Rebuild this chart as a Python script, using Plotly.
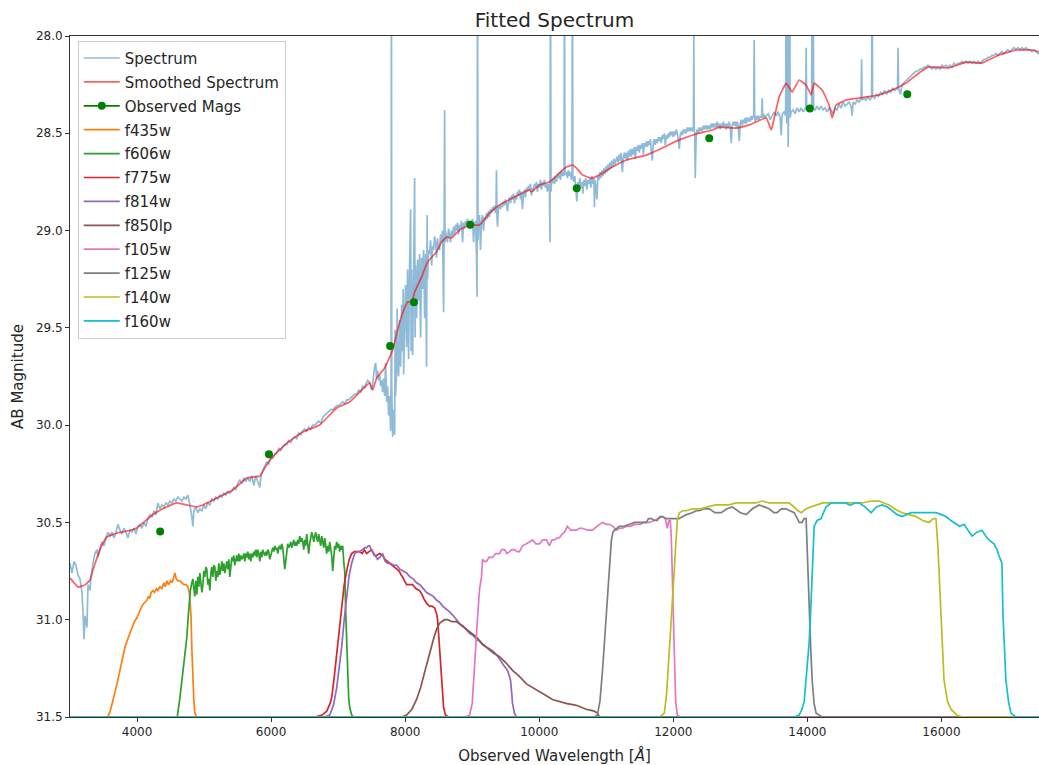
import plotly.graph_objects as go

# ---------------- data (wavelength [A], AB magnitude) ----------------
spectrum = [
(3000,30.71),(3030,30.76),(3060,30.70),(3089,30.72),(3119,30.77),(3149,30.79),(3179,30.86),(3194,30.96),(3209,31.10),(3224,30.98),
(3238,31.01),(3253,31.04),(3268,30.82),(3298,30.85),(3313,30.78),(3343,30.71),(3373,30.66),(3402,30.64),(3417,30.68),(3447,30.63),
(3477,30.60),(3507,30.62),(3536,30.58),(3566,30.55),(3596,30.57),(3626,30.55),(3656,30.58),(3685,30.55),(3715,30.51),(3745,30.54),
(3775,30.56),(3805,30.53),(3834,30.55),(3864,30.58),(3894,30.54),(3924,30.55),(3954,30.53),(3983,30.56),(4013,30.52),(4043,30.51),
(4073,30.53),(4103,30.50),(4132,30.52),(4162,30.48),(4192,30.46),(4222,30.47),(4252,30.44),(4281,30.46),(4311,30.40),(4341,30.43),
(4371,30.41),(4401,30.42),(4430,30.40),(4460,30.41),(4490,30.39),(4520,30.40),(4550,30.38),(4579,30.39),(4609,30.37),(4639,30.38),
(4669,30.39),(4699,30.37),(4728,30.38),(4758,30.36),(4788,30.41),(4818,30.47),(4833,30.52),(4848,30.44),(4877,30.42),(4907,30.45),
(4937,30.43),(4967,30.44),(4997,30.41),(5026,30.43),(5056,30.40),(5086,30.41),(5116,30.38),(5146,30.39),(5175,30.37),(5205,30.38),
(5235,30.36),(5265,30.37),(5295,30.35),(5324,30.36),(5354,30.34),(5384,30.35),(5414,30.34),(5444,30.32),(5473,30.33),(5503,30.30),
(5533,30.28),(5563,30.30),(5593,30.27),(5622,30.29),(5652,30.27),(5682,30.29),(5712,30.26),(5742,30.31),(5771,30.26),(5801,30.29),
(5831,30.32),(5846,30.27),(5876,30.23),(5906,30.21),(5935,30.19),(5965,30.20),(5995,30.17),(6025,30.17),(6055,30.15),(6084,30.14),
(6114,30.12),(6144,30.13),(6174,30.11),(6204,30.10),(6233,30.10),(6263,30.08),(6293,30.09),(6323,30.07),(6353,30.06),(6382,30.07),
(6412,30.04),(6442,30.05),(6472,30.03),(6502,30.02),(6531,30.03),(6561,30.01),(6591,30.02),(6621,30.00),(6651,30.00),(6680,29.99),
(6710,29.98),(6740,29.99),(6770,29.96),(6800,29.95),(6829,29.94),(6859,29.93),(6889,29.92),(6919,29.92),(6949,29.91),(6978,29.90),
(7008,29.90),(7038,29.89),(7068,29.88),(7098,29.89),(7127,29.87),(7157,29.87),(7187,29.86),(7217,29.85),(7247,29.84),(7277,29.84),
(7306,29.82),(7336,29.83),(7366,29.80),(7396,29.81),(7410,29.79),(7440,29.77),(7470,29.78),(7500,29.82),(7515,29.79),(7530,29.74),
(7545,29.70),(7560,29.68),(7574,29.76),(7589,29.72),(7604,29.77),(7619,29.74),(7634,29.80),(7649,29.77),(7664,29.83),(7679,29.76),
(7694,29.85),(7708,29.68),(7723,29.88),(7738,29.80),(7753,29.95),(7768,29.85),(7783,30.03),(7790,29.75),(7795,27.5),(7800,29.80),
(7813,30.06),(7828,29.92),(7843,30.05),(7850,29.51),(7857,29.85),(7872,29.72),(7880,29.40),(7887,29.68),(7902,29.75),(7917,29.46),
(7932,29.70),(7947,29.38),(7962,29.62),(7970,29.30),(7977,29.74),(7992,29.46),(8006,29.28),(8021,29.60),(8036,29.20),(8051,29.66),
(8066,29.18),(8081,28.89),(8089,29.62),(8096,29.20),(8111,29.64),(8126,29.22),(8141,28.73),(8148,29.55),(8155,29.18),(8170,29.45),
(8185,29.15),(8200,29.36),(8215,29.12),(8230,29.55),(8245,29.14),(8260,29.30),(8275,29.10),(8290,29.45),(8304,29.12),(8319,29.70),
(8327,28.92),(8334,29.25),(8349,29.10),(8364,29.12),(8379,29.05),(8394,29.18),(8409,29.08),(8424,29.10),(8439,29.03),(8453,29.06),
(8468,29.14),(8483,29.04),(8498,29.09),(8513,29.10),(8528,29.02),(8543,29.06),(8558,29.00),(8573,29.42),(8581,29.02),(8588,28.38),
(8595,29.06),(8602,29.00),(8617,29.04),(8632,29.06),(8647,28.99),(8662,29.02),(8677,29.06),(8692,29.00),(8707,29.03),(8722,28.98),
(8737,29.02),(8752,28.97),(8766,29.00),(8781,28.96),(8796,29.02),(8811,28.97),(8826,28.99),(8841,28.95),(8856,29.06),(8870,28.96),
(8885,28.99),(8900,28.95),(8915,28.97),(8930,28.94),(8945,28.96),(8960,28.99),(8975,28.95),(8990,28.97),(9005,28.94),(9020,29.06),
(9035,28.97),(9049,28.95),(9064,29.12),(9072,29.34),(9079,27.5),(9086,29.05),(9094,28.95),(9109,28.92),(9124,29.10),(9139,28.95),
(9154,28.92),(9169,29.00),(9184,28.93),(9198,28.95),(9213,28.91),(9228,28.94),(9243,28.90),(9258,28.93),(9273,28.89),(9288,28.91),
(9303,28.88),(9318,28.90),(9333,28.87),(9347,28.91),(9355,28.88),(9362,28.69),(9370,28.93),(9377,28.98),(9392,28.88),(9407,28.87),
(9422,28.89),(9437,28.86),(9452,28.88),(9467,28.85),(9482,28.87),(9497,28.84),(9511,28.86),(9526,28.90),(9541,28.85),(9556,28.83),
(9571,28.86),(9586,28.82),(9601,28.84),(9616,28.81),(9631,28.86),(9646,28.82),(9661,28.84),(9675,28.80),(9690,28.82),(9705,28.79),
(9720,28.84),(9735,28.80),(9750,28.89),(9765,28.81),(9780,28.79),(9794,28.83),(9809,28.78),(9824,28.80),(9839,28.77),(9854,28.79),
(9869,28.76),(9884,28.82),(9899,28.78),(9913,28.80),(9928,28.76),(9943,28.78),(9958,28.75),(9973,28.80),(9988,28.76),(10003,28.78),
(10018,28.74),(10033,28.79),(10048,28.75),(10063,28.77),(10078,28.74),(10092,28.78),(10107,28.76),(10122,28.80),(10137,28.76),(10152,28.79),
(10160,29.06),(10167,27.5),(10175,28.80),(10182,28.76),(10197,28.75),(10212,28.73),(10227,28.76),(10241,28.72),(10256,28.75),(10271,28.71),
(10286,28.73),(10301,28.70),(10316,28.74),(10331,28.69),(10346,28.72),(10361,28.70),(10370,28.72),(10376,27.5),(10382,28.71),(10405,28.70),
(10420,28.73),(10435,28.69),(10450,28.72),(10465,28.70),(10480,28.74),(10489,28.69),(10495,27.5),(10501,28.72),(10516,28.75),(10531,28.72),
(10546,28.79),(10561,28.85),(10576,28.75),(10591,28.77),(10606,28.73),(10621,28.78),(10636,28.75),(10651,28.81),(10665,28.74),(10680,28.77),
(10695,28.73),(10710,28.79),(10725,28.74),(10740,28.76),(10755,28.73),(10770,28.78),(10785,28.72),(10800,28.76),(10815,28.73),(10823,28.88),
(10830,28.74),(10845,28.77),(10860,28.84),(10875,28.72),(10890,28.74),(10905,28.70),(10920,28.73),(10935,28.69),(10950,28.72),(10965,28.68),
(10980,28.71),(10995,28.67),(11010,28.70),(11025,28.66),(11040,28.69),(11055,28.65),(11070,28.68),(11085,28.64),(11100,28.67),(11115,28.63),
(11130,28.66),(11145,28.64),(11160,28.62),(11175,28.65),(11190,28.61),(11205,28.64),(11220,28.60),(11240,28.70),(11255,28.62),(11270,28.60),
(11284,28.63),(11300,28.60),(11314,28.64),(11330,28.59),(11344,28.62),(11360,28.58),(11374,28.62),(11390,28.58),(11404,28.61),(11420,28.57),
(11433,28.63),(11450,28.57),(11463,28.59),(11480,28.56),(11493,28.60),(11510,28.56),(11523,28.58),(11540,28.55),(11552,28.61),(11570,28.55),
(11582,28.57),(11600,28.54),(11612,28.57),(11630,28.54),(11642,28.56),(11660,28.53),(11672,28.60),(11687,28.64),(11702,28.55),(11716,28.53),
(11731,28.56),(11746,28.53),(11761,28.55),(11776,28.52),(11791,28.54),(11806,28.52),(11821,28.55),(11836,28.51),(11851,28.53),(11866,28.50),
(11880,28.56),(11895,28.51),(11910,28.53),(11925,28.50),(11940,28.52),(11955,28.49),(11970,28.51),(11985,28.49),(12000,28.52),(12015,28.49),
(12029,28.51),(12044,28.48),(12059,28.50),(12074,28.53),(12089,28.58),(12104,28.51),(12119,28.49),(12134,28.51),(12149,28.48),(12164,28.50),
(12178,28.48),(12193,28.50),(12208,28.47),(12223,28.49),(12238,28.47),(12253,28.49),(12268,28.47),(12283,28.49),(12296,28.47),(12300,28.48),
(12306,28.0),(12312,28.49),(12320,28.50),(12327,28.73),(12342,28.50),(12357,28.48),(12372,28.50),(12387,28.47),(12402,28.49),(12417,28.47),
(12432,28.49),(12447,28.46),
(12462,28.48),(12477,28.46),(12491,28.48),(12506,28.46),(12521,28.48),(12536,28.46),(12551,28.48),(12566,28.45),(12581,28.47),(12596,28.45),
(12611,28.47),(12626,28.45),(12640,28.47),(12655,28.44),(12670,28.47),(12685,28.45),(12700,28.48),(12715,28.45),(12730,28.47),(12745,28.44),
(12760,28.47),(12775,28.45),(12789,28.48),(12804,28.45),(12819,28.47),(12834,28.44),(12849,28.47),(12864,28.55),(12879,28.46),(12894,28.44),
(12908,28.46),(12923,28.44),(12938,28.47),(12953,28.44),(12968,28.46),(12983,28.54),(12998,28.45),(13013,28.43),(13028,28.46),(13043,28.43),
(13058,28.45),(13073,28.42),(13087,28.45),(13102,28.42),(13117,28.44),(13132,28.42),(13147,28.44),(13162,28.41),(13177,28.43),(13192,28.41),
(13199,28.42),(13206,28.02),(13214,28.42),(13221,28.44),(13236,28.41),(13251,28.43),(13266,28.41),(13281,28.43),(13296,28.41),(13311,28.42),
(13318,28.41),(13326,28.32),(13333,28.42),(13348,28.40),(13363,28.42),(13385,28.41),(13415,28.40),(13445,28.43),(13475,28.41),(13505,28.39),
(13534,28.41),(13564,28.39),(13594,28.42),(13609,28.51),(13624,28.40),(13654,28.39),(13676,28.41),(13683,27.5),(13691,28.45),(13705,27.5),
(13713,28.57),(13720,28.40),(13735,27.5),(13743,28.42),(13758,28.39),(13788,28.38),(13817,28.40),(13847,28.37),(13877,28.39),(13907,28.37),
(13937,28.39),(13974,28.37),(13981,28.06),(13989,28.38),(14011,28.36),(14041,28.38),(14063,28.36),(14071,27.5),(14078,28.37),(14086,27.5),
(14093,28.37),(14116,28.38),(14145,28.36),(14175,28.38),(14205,28.36),(14235,28.38),(14265,28.37),(14294,28.39),(14324,28.37),(14354,28.38),
(14384,28.40),(14414,28.37),(14443,28.38),(14473,28.35),(14503,28.37),(14533,28.34),(14563,28.36),(14593,28.35),(14622,28.34),(14652,28.36),
(14667,28.41),(14682,28.34),(14712,28.35),(14741,28.33),(14771,28.34),(14801,28.32),(14809,28.12),(14816,28.33),(14846,28.32),(14875,28.33),
(14905,28.31),(14935,28.33),(14958,28.31),(14965,27.5),(14972,28.31),(15002,28.32),(15032,28.30),(15061,28.31),(15091,28.29),(15121,28.30),
(15151,28.28),(15181,28.30),(15210,28.28),(15240,28.29),(15270,28.27),(15300,28.28),(15345,28.27),(15353,28.06),(15360,28.27),(15390,28.30),
(15412,28.25),(15442,28.24),(15471,28.23),(15501,28.22),(15531,28.21),(15561,28.20),(15590,28.19),(15620,28.18),(15650,28.18),(15680,28.17),
(15710,28.17),(15740,28.16),(15769,28.16),(15799,28.15),(15829,28.16),(15859,28.17),(15888,28.16),(15918,28.17),(15948,28.16),(15978,28.17),
(16008,28.15),(16037,28.16),(16067,28.15),(16097,28.16),(16127,28.15),(16157,28.16),(16186,28.14),(16216,28.15),(16246,28.14),(16276,28.14),
(16306,28.13),(16335,28.14),(16365,28.13),(16395,28.14),(16425,28.13),(16455,28.14),(16484,28.13),(16514,28.14),(16544,28.13),(16574,28.14),
(16604,28.13),(16633,28.12),(16663,28.12),(16693,28.11),(16723,28.11),(16753,28.10),(16782,28.10),(16812,28.09),(16842,28.10),(16872,28.09),
(16902,28.08),(16931,28.09),(16961,28.08),(16991,28.07),(17021,28.08),(17051,28.07),(17080,28.06),(17110,28.07),(17140,28.06),(17170,28.07),
(17200,28.06),(17229,28.07),(17259,28.06),(17289,28.07),(17319,28.07),(17349,28.08),(17378,28.07),(17408,28.08),(17438,28.09),(17460,28.09)]

smoothed = [
(3000,30.785),(3119,30.832),(3224,30.821),(3298,30.796),(3343,30.744),(3402,30.683),(3477,30.616),(3551,30.575),(3700,30.554),(3849,30.544),
(3998,30.528),(4088,30.503),(4192,30.472),(4296,30.446),(4445,30.420),(4594,30.400),(4743,30.410),(4892,30.420),(4982,30.410),(5131,30.385),
(5280,30.359),(5429,30.333),(5637,30.272),(5831,30.261),(5980,30.179),(6233,30.092),(6472,30.035),(6725,29.999),(6978,29.912),(7172,29.881),
(7321,29.830),(7470,29.783),(7515,29.819),(7574,29.758),(7694,29.706),(7813,29.614),(7887,29.511),(7962,29.424),(8036,29.367),(8096,29.367),
(8141,29.316),(8245,29.239),(8334,29.161),(8468,29.110),(8543,29.059),(8617,29.033),(8692,29.038),(8811,28.997),(8960,28.971),(9109,28.971),
(9258,28.910),(9407,28.868),(9601,28.833),(9854,28.791),(9884,28.802),(10003,28.766),(10152,28.750),(10301,28.704),(10405,28.673),(10495,28.663),
(10554,28.678),(10644,28.714),(10778,28.730),(10897,28.714),(11091,28.673),(11299,28.637),(11597,28.612),(11836,28.576),(11985,28.550),(12089,28.534),
(12342,28.504),(12581,28.483),(12685,28.468),(12938,28.473),(13132,28.457),(13385,28.421),(13460,28.483),(13475,28.468),(13579,28.313),(13683,28.242),
(13773,28.288),(13877,28.226),(13981,28.252),(14056,28.303),(14101,28.242),(14220,28.278),(14324,28.355),(14369,28.421),(14428,28.355),(14577,28.329),
(14771,28.319),(14875,28.313),(15069,28.303),(15263,28.278),(15471,28.242),(15665,28.190),(15814,28.159),(16112,28.164),(16365,28.134),(16604,28.139),
(16857,28.098),(17110,28.072),(17349,28.072),(17460,28.082)]

obs_wave = [4345, 5968, 7775, 8131, 8970, 10559, 12536, 14036, 15490]
obs_mag = [30.546, 30.149, 29.593, 29.368, 28.970, 28.783, 28.526, 28.372, 28.300]

f435w = [(3000,31.5),(3560,31.5),(3600,31.47),(3640,31.42),(3680,31.36),(3720,31.30),(3745,31.26),(3780,31.20),(3820,31.14),(3860,31.10),
(3894,31.07),(3930,31.04),(3960,31.01),(3998,30.99),(4030,30.96),(4060,30.94),(4090,30.92),(4120,30.91),(4147,30.90),(4170,30.88),
(4190,30.89),(4210,30.86),(4237,30.85),(4260,30.86),(4290,30.84),(4310,30.85),(4341,30.83),(4370,30.84),(4400,30.81),(4420,30.83),
(4445,30.80),(4470,30.82),(4500,30.80),(4525,30.81),(4545,30.78),(4565,30.76),(4585,30.79),(4610,30.80),(4639,30.80),(4670,30.81),
(4700,30.82),(4730,30.82),(4758,30.83),(4780,30.86),(4795,30.92),(4805,30.98),(4818,31.15),(4833,31.31),(4848,31.42),(4863,31.48),
(4890,31.5),(17460,31.5)]

f606w = [(3000,31.5),(4600,31.5),(4640,31.40),(4684,31.26),(4710,31.16),(4743,31.09),(4760,31.00),(4773,30.95),(4795,30.85),(4818,30.81),
(4833,30.79),(4848,30.84),(4862,30.88),(4877,30.80),(4892,30.87),(4907,30.78),(4922,30.83),(4937,30.76),(4952,30.80),(4967,30.86),
(4982,30.82),(4997,30.75),(5011,30.78),(5026,30.73),(5041,30.74),(5056,30.82),(5071,30.79),(5086,30.85),(5101,30.76),(5116,30.73),
(5131,30.78),(5146,30.72),(5161,30.73),(5175,30.80),(5190,30.75),(5205,30.78),(5220,30.71),(5235,30.77),(5250,30.74),(5265,30.70),
(5280,30.75),(5295,30.71),(5310,30.76),(5324,30.72),(5339,30.70),(5354,30.74),(5369,30.69),(5384,30.78),(5399,30.71),(5414,30.68),
(5429,30.70),(5444,30.67),(5458,30.72),(5473,30.68),(5488,30.67),(5503,30.70),(5518,30.66),(5533,30.70),(5548,30.67),(5563,30.69),
(5578,30.68),(5593,30.66),(5607,30.70),(5622,30.66),(5637,30.68),(5652,30.65),(5667,30.69),(5682,30.66),(5697,30.70),(5712,30.66),
(5727,30.68),(5742,30.65),(5757,30.67),(5771,30.64),(5786,30.68),(5801,30.64),(5816,30.66),(5831,30.70),(5846,30.65),(5861,30.68),
(5876,30.64),(5891,30.66),(5906,30.67),(5920,30.65),(5935,30.67),(5950,30.64),(5965,30.65),(5980,30.69),(5995,30.66),(6010,30.65),
(6025,30.63),(6040,30.65),(6055,30.62),(6069,30.64),(6084,30.63),(6099,30.66),(6114,30.63),(6129,30.62),(6144,30.64),(6159,30.61),
(6174,30.63),(6189,30.68),(6204,30.74),(6218,30.70),(6233,30.66),(6248,30.61),(6263,30.63),(6278,30.62),(6293,30.60),(6308,30.63),
(6323,30.61),(6338,30.59),(6353,30.62),(6367,30.60),(6382,30.62),(6397,30.59),(6412,30.61),(6427,30.57),(6442,30.60),(6457,30.58),
(6472,30.60),(6487,30.64),(6502,30.59),(6516,30.62),(6531,30.56),(6546,30.60),(6561,30.66),(6576,30.61),(6591,30.58),(6606,30.55),
(6621,30.57),(6636,30.60),(6651,30.57),(6665,30.55),(6680,30.58),(6695,30.60),(6710,30.56),(6725,30.59),(6740,30.62),(6755,30.57),
(6770,30.60),(6785,30.63),(6800,30.58),(6814,30.61),(6829,30.66),(6844,30.62),(6859,30.65),(6874,30.60),(6889,30.63),(6904,30.67),
(6919,30.75),(6934,30.68),(6949,30.62),(6963,30.64),(6978,30.60),(6993,30.63),(7008,30.61),(7023,30.65),(7038,30.62),(7053,30.64),
(7068,30.62),(7083,30.70),(7098,30.75),(7112,30.95),(7127,31.15),(7142,31.30),(7157,31.40),(7172,31.45),(7202,31.49),(7232,31.5),
(17460,31.5)]

f775w = [(3000,31.5),(6650,31.5),(6760,31.49),(6830,31.47),(6880,31.43),(6904,31.40),(6940,31.30),(6978,31.17),(7015,31.04),(7053,30.92),
(7090,30.82),(7127,30.75),(7165,30.69),(7202,30.66),(7240,30.65),(7276,30.65),(7320,30.65),(7360,30.66),(7390,30.64),(7425,30.66),
(7460,30.65),(7500,30.64),(7540,30.67),(7574,30.67),(7620,30.66),(7664,30.67),(7700,30.69),(7735,30.70),(7768,30.71),(7800,30.72),
(7830,30.73),(7872,30.74),(7910,30.75),(7940,30.77),(7962,30.78),(7990,30.80),(8021,30.82),(8060,30.82),(8111,30.82),(8160,30.84),
(8215,30.85),(8250,30.87),(8290,30.90),(8330,30.92),(8364,30.93),(8400,30.93),(8439,30.94),(8470,30.97),(8483,31.00),(8500,31.08),
(8513,31.14),(8530,31.24),(8543,31.31),(8560,31.40),(8573,31.45),(8600,31.49),(8650,31.5),(17460,31.5)]

f814w = [(3000,31.5),(6800,31.5),(6874,31.49),(6930,31.44),(6978,31.35),(7015,31.25),(7053,31.14),(7090,31.00),(7127,30.88),(7165,30.77),
(7202,30.71),(7247,30.66),(7290,30.65),(7321,30.65),(7360,30.64),(7400,30.63),(7425,30.63),(7450,30.62),(7470,30.62),(7490,30.64),
(7515,30.65),(7550,30.67),(7589,30.69),(7620,30.68),(7664,30.66),(7700,30.70),(7738,30.71),(7780,30.71),(7830,30.72),(7872,30.72),
(7920,30.74),(7970,30.75),(8021,30.76),(8070,30.78),(8120,30.79),(8170,30.81),(8220,30.82),(8270,30.84),(8319,30.86),(8370,30.87),
(8420,30.88),(8470,30.90),(8513,30.91),(8560,30.93),(8600,30.94),(8662,30.96),(8720,30.98),(8770,31.00),(8811,31.02),(8860,31.03),
(8910,31.05),(8960,31.07),(9010,31.08),(9060,31.10),(9109,31.11),(9160,31.13),(9210,31.14),(9258,31.15),(9310,31.16),(9360,31.18),
(9407,31.20),(9460,31.23),(9500,31.25),(9526,31.26),(9545,31.28),(9571,31.31),(9590,31.38),(9601,31.43),(9630,31.48),(9660,31.5),
(17460,31.5)]

f850lp = [(3000,31.5),(7950,31.5),(8021,31.49),(8100,31.46),(8170,31.41),(8230,31.35),(8290,31.27),(8340,31.20),(8394,31.14),(8430,31.09),
(8468,31.05),(8510,31.02),(8543,31.01),(8590,31.00),(8632,31.00),(8700,31.01),(8766,31.01),(8840,31.03),(8915,31.05),(8990,31.07),
(9064,31.09),(9140,31.12),(9213,31.14),(9310,31.17),(9407,31.19),(9500,31.22),(9601,31.26),(9700,31.29),(9809,31.33),(9900,31.35),
(10003,31.37),(10100,31.39),(10197,31.41),(10300,31.42),(10400,31.43),(10554,31.44),(10700,31.46),(10820,31.47),(10867,31.48),(10897,31.5),
(17460,31.5)]

f105w = [(3000,31.5),(8900,31.5),(8960,31.49),(9000,31.43),(9035,31.24),(9060,31.08),(9079,30.99),(9110,30.84),(9139,30.78),(9154,30.69),
(9180,30.70),(9213,30.70),(9250,30.68),(9303,30.68),(9350,30.66),(9407,30.66),(9440,30.64),(9482,30.64),(9520,30.66),(9556,30.65),
(9590,30.64),(9631,30.64),(9670,30.65),(9705,30.65),(9750,30.62),(9809,30.61),(9850,30.60),(9899,30.59),(9950,30.61),(10003,30.61),
(10050,30.59),(10107,30.59),(10152,30.62),(10190,30.59),(10227,30.59),(10265,30.58),(10301,30.58),(10340,30.56),(10376,30.55),(10420,30.52),
(10470,30.54),(10520,30.54),(10554,30.54),(10600,30.53),(10644,30.53),(10720,30.54),(10793,30.54),(10860,30.52),(10942,30.50),(11000,30.51),
(11046,30.51),(11100,30.52),(11150,30.54),(11200,30.53),(11240,30.53),(11300,30.52),(11360,30.52),(11419,30.51),(11500,30.51),(11568,30.50),
(11640,30.50),(11717,30.49),(11780,30.48),(11836,30.47),(11880,30.48),(11910,30.53),(11935,30.49),(11955,30.49),(11970,30.58),(11985,30.80),
(12000,31.05),(12015,31.28),(12035,31.42),(12059,31.49),(12100,31.5),(17460,31.5)]

f125w = [(3000,31.5),(10820,31.5),(10867,31.49),(10905,31.42),(10942,31.27),(10980,31.07),(11016,30.90),(11050,30.70),(11076,30.59),(11100,30.55),
(11121,30.54),(11160,30.53),(11195,30.52),(11270,30.52),(11344,30.51),(11420,30.50),(11493,30.50),(11550,30.50),(11597,30.50),(11630,30.48),
(11672,30.48),(11720,30.49),(11761,30.49),(11800,30.47),(11836,30.47),(11890,30.48),(11940,30.48),(12000,30.48),(12089,30.48),(12140,30.47),
(12193,30.46),(12283,30.45),(12340,30.44),(12387,30.44),(12460,30.43),(12536,30.43),(12620,30.45),(12715,30.45),(12800,30.43),(12879,30.42),
(12950,30.44),(13000,30.45),(13087,30.46),(13180,30.43),(13281,30.41),(13350,30.42),(13430,30.43),(13500,30.45),(13549,30.45),(13610,30.43),
(13683,30.43),(13740,30.44),(13803,30.45),(13850,30.48),(13877,30.50),(13922,30.50),(13950,30.48),(13981,30.48),(13996,30.63),(14011,30.80),
(14026,30.97),(14050,31.15),(14071,31.31),(14100,31.43),(14130,31.48),(14220,31.5),(17460,31.5)]

f140w = [(3000,31.5),(11800,31.5),(11866,31.48),(11900,31.38),(11940,31.16),(11980,30.93),(12015,30.73),(12040,30.58),(12059,30.49),(12089,30.45),
(12140,30.44),(12193,30.44),(12283,30.43),(12400,30.43),(12536,30.42),(12630,30.41),(12730,30.41),(12830,30.41),(12938,30.40),(13030,30.40),
(13132,30.40),(13230,30.40),(13326,30.39),(13430,30.40),(13534,30.40),(13630,30.40),(13728,30.40),(13800,30.42),(13860,30.44),(13907,30.45),
(13980,30.43),(14050,30.42),(14130,30.41),(14230,30.40),(14324,30.40),(14450,30.40),(14577,30.40),(14700,30.40),(14816,30.40),(14950,30.39),
(15069,30.39),(15140,30.40),(15218,30.41),(15300,30.43),(15412,30.45),(15520,30.46),(15620,30.47),(15720,30.49),(15814,30.50),(15880,30.48),
(15918,30.48),(15948,30.63),(15970,30.80),(15993,30.97),(16038,31.31),(16090,31.42),(16142,31.46),(16230,31.49),(16306,31.5),(17460,31.5)]

f160w = [(3000,31.5),(13800,31.5),(13877,31.49),(13920,31.46),(13952,31.42),(13990,31.28),(14026,31.12),(14050,30.95),(14071,30.80),(14101,30.52),
(14145,30.49),(14205,30.48),(14240,30.45),(14279,30.42),(14354,30.40),(14420,30.40),(14473,30.40),(14530,30.40),(14577,30.40),(14620,30.41),
(14652,30.41),(14710,30.40),(14771,30.40),(14860,30.42),(14950,30.45),(15030,30.42),(15114,30.41),(15190,30.42),(15263,30.44),(15340,30.46),
(15412,30.47),(15480,30.46),(15546,30.45),(15630,30.45),(15710,30.45),(15820,30.45),(15918,30.45),(16000,30.46),(16067,30.47),(16140,30.49),
(16216,30.51),(16270,30.52),(16336,30.51),(16400,30.54),(16455,30.57),(16530,30.55),(16604,30.54),(16660,30.57),(16708,30.59),(16783,30.61),
(16830,30.64),(16857,30.67),(16902,30.71),(16917,30.97),(16961,31.31),(17000,31.42),(17036,31.48),(17110,31.5),(17460,31.5)]

filter_names = ["f435w", "f606w", "f775w", "f814w", "f850lp", "f105w", "f125w", "f140w", "f160w"]
filter_curves = [f435w, f606w, f775w, f814w, f850lp, f105w, f125w, f140w, f160w]
filter_colors = ["#ff7f0e", "#2ca02c", "#d62728", "#9467bd", "#8c564b", "#e377c2", "#7f7f7f", "#bcbd22", "#17becf"]

x_ticks = [4000, 6000, 8000, 10000, 12000, 14000, 16000]
y_ticks = [28.0, 28.5, 29.0, 29.5, 30.0, 30.5, 31.0, 31.5]

# ---------------- figure ----------------
fig = go.Figure()
LW = 1.7

fig.add_trace(go.Scatter(x=[p[0] for p in spectrum], y=[p[1] for p in spectrum], mode="lines",
                         name="Spectrum", legendgroup="spec",
                         line=dict(color="rgba(31,119,180,0.5)", width=LW, simplify=False)))
fig.add_trace(go.Scatter(x=[p[0] for p in smoothed], y=[p[1] for p in smoothed], mode="lines",
                         name="Smoothed Spectrum", legendgroup="smooth",
                         line=dict(color="rgba(255,0,0,0.62)", width=LW, shape="spline", smoothing=0.3)))
# legend entry for observed magnitudes (line + marker like the original handle)
fig.add_trace(go.Scatter(x=[None], y=[None], mode="lines+markers", name="Observed Mags", legendgroup="obs",
                         line=dict(color="green", width=LW), marker=dict(color="green", size=8)))
fig.add_trace(go.Scatter(x=obs_wave, y=obs_mag, mode="markers", name="Observed Mags", legendgroup="obs",
                         showlegend=False, marker=dict(color="green", size=8)))
for name, curve, col in zip(filter_names, filter_curves, filter_colors):
    fig.add_trace(go.Scatter(x=[p[0] for p in curve], y=[p[1] for p in curve], mode="lines",
                             name=name, legendgroup=name, line=dict(color=col, width=LW)))

axis_common = dict(showgrid=False, zeroline=False, showline=True, linecolor="#333333", linewidth=1,
                   ticks="outside", ticklen=4, tickwidth=1, tickcolor="#333333",
                   tickfont=dict(size=12, color="#262626"), layer="below traces")

fig.update_layout(
    width=1039, height=765,
    margin=dict(l=70, r=0, t=36, b=48),
    plot_bgcolor="white", paper_bgcolor="white",
    font=dict(family="DejaVu Sans", color="#262626"),
    title=dict(text="Fitted Spectrum", x=0.5, xref="paper", xanchor="center",
               y=1 - 20 / 765, yref="container", yanchor="middle",
               font=dict(size=20, color="#262626")),
    legend=dict(x=0.008, y=0.993, xanchor="left", yanchor="top", itemwidth=36,
                bgcolor="rgba(255,255,255,0.85)", bordercolor="#cccccc", borderwidth=1,
                font=dict(size=15, color="#262626"), traceorder="grouped", tracegroupgap=1.4),
    xaxis=dict(range=[3000, 17455], tickvals=x_ticks, ticktext=[str(v) for v in x_ticks], mirror=True,
               title=dict(text="Observed Wavelength [<i>Å</i>]", font=dict(size=15), standoff=13),
               automargin=False, **axis_common),
    yaxis=dict(range=[31.5, 28.0], tickvals=y_ticks, ticktext=["%.1f" % v for v in y_ticks],
               title=dict(text="AB Magnitude", font=dict(size=15), standoff=8),
               automargin=False, **axis_common),
)

fig.write_html("out.html")
